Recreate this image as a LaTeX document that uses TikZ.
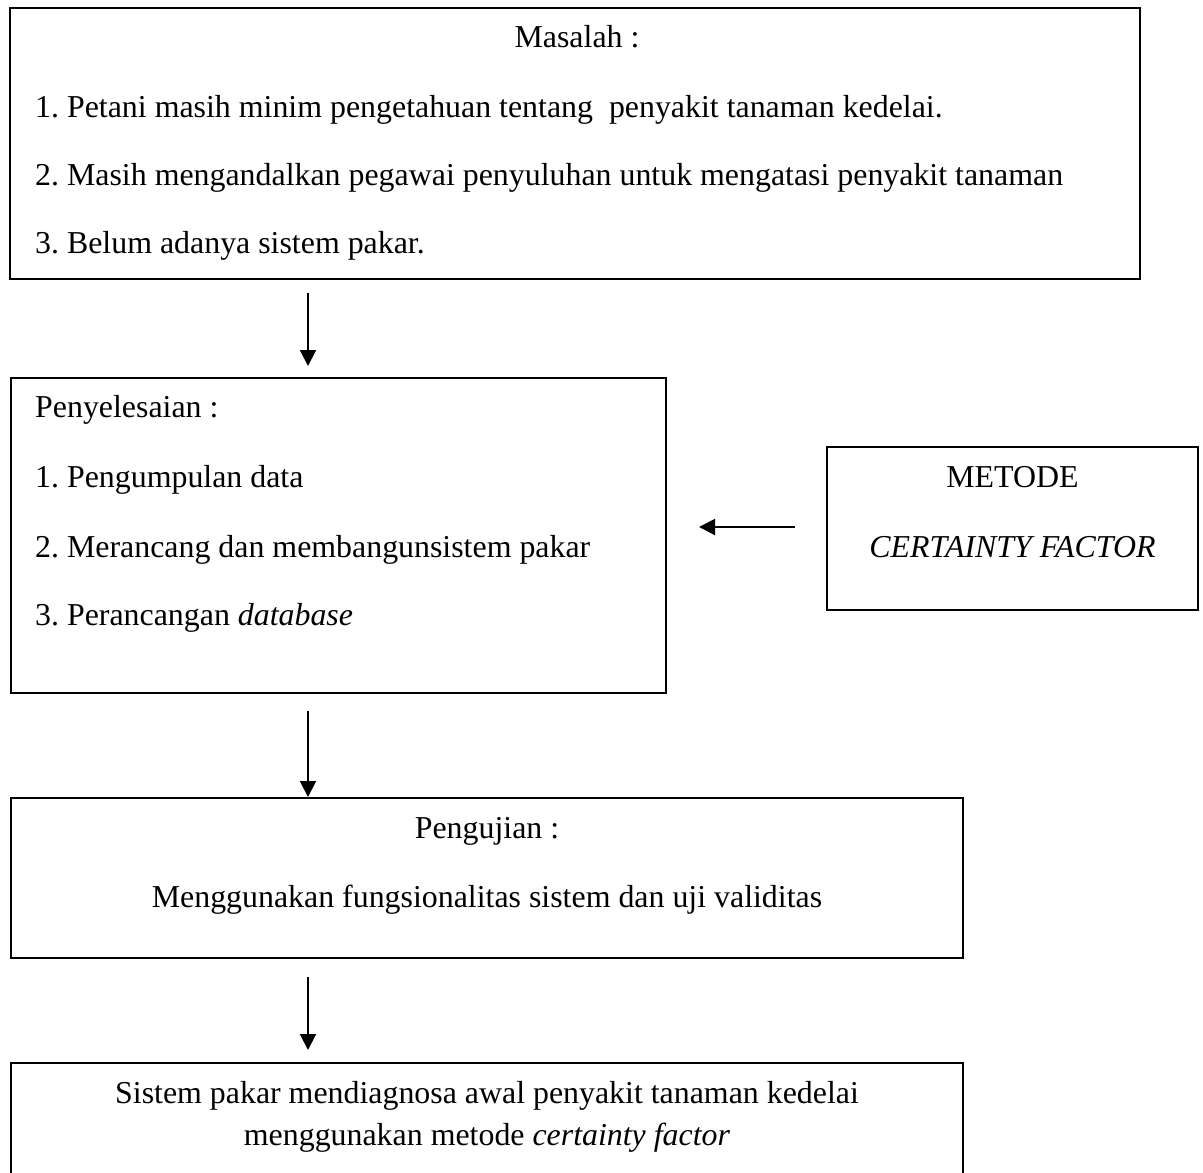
\documentclass[tikz,border=0pt]{standalone}
\usepackage{fontspec}
\setmainfont{Liberation Serif}
\usetikzlibrary{arrows.meta}
\tikzset{
  box/.style={draw, line width=2bp, rectangle, inner sep=0pt},
  txt/.style={inner sep=0pt, font=\fontsize{32}{38}\selectfont\frenchspacing},
  conn/.style={line width=2bp, -{Triangle[length=16bp,width=16bp]}},
}
\begin{document}
\begin{tikzpicture}[x=1bp,y=-1bp]
\clip (0,0) rectangle (1203,1173);
\fill[white] (0,0) rectangle (1203,1173);
% boxes
\node[box, minimum width=1130bp, minimum height=271bp] (b1) at (575,143.5) {};
\node[box, minimum width=655bp, minimum height=315bp] (b2) at (338.5,535.5) {};
\node[box, minimum width=371bp, minimum height=163bp] (b3) at (1012.5,528.5) {};
\node[box, minimum width=952bp, minimum height=160bp] (b4) at (487,878) {};
\node[box, minimum width=952bp, minimum height=160bp] (b5) at (487,1143) {};
% texts box 1
\node[txt, anchor=base] (t11) at (577,47) {Masalah :};
\node[txt, anchor=base west] (t12) at (35,117) {1. Petani masih minim pengetahuan tentang\ \ penyakit tanaman kedelai.};
\node[txt, anchor=base west] (t13) at (35,185) {2. Masih mengandalkan pegawai penyuluhan untuk mengatasi penyakit tanaman};
\node[txt, anchor=base west] (t14) at (35,253) {3. Belum adanya sistem pakar.};
% box 2
\node[txt, anchor=base west] (t21) at (35,417) {Penyelesaian :};
\node[txt, anchor=base west] (t22) at (35,487) {1. Pengumpulan data};
\node[txt, anchor=base west] (t23) at (35,557) {2. Merancang dan membangunsistem pakar};
\node[txt, anchor=base west] (t24) at (35,625) {3. Perancangan \textit{database}};
% box 3
\node[txt, anchor=base] (t31) at (1012.5,487) {METODE};
\node[txt, anchor=base] (t32) at (1012.5,557) {\textit{CERTAINTY FACTOR}};
% box 4
\node[txt, anchor=base] (t41) at (487,838) {Pengujian :};
\node[txt, anchor=base] (t42) at (487,907) {Menggunakan fungsionalitas sistem dan uji validitas};
% box 5
\node[txt, anchor=base] (t51) at (487,1103) {Sistem pakar mendiagnosa awal penyakit tanaman kedelai};
\node[txt, anchor=base] (t52) at (487,1145) {menggunakan metode \textit{certainty factor}};
% connectors
\coordinate (a1s) at (308,293);
\coordinate (a1e) at (308,366);
\coordinate (a2s) at (308,711);
\coordinate (a2e) at (308,797);
\coordinate (a3s) at (308,977);
\coordinate (a3e) at (308,1050);
\coordinate (ahs) at (795,527);
\coordinate (ahe) at (699,527);
\draw[conn] (a1s) -- (a1e);
\draw[conn] (a2s) -- (a2e);
\draw[conn] (a3s) -- (a3e);
\draw[conn] (ahs) -- (ahe);
\end{tikzpicture}
\end{document}
